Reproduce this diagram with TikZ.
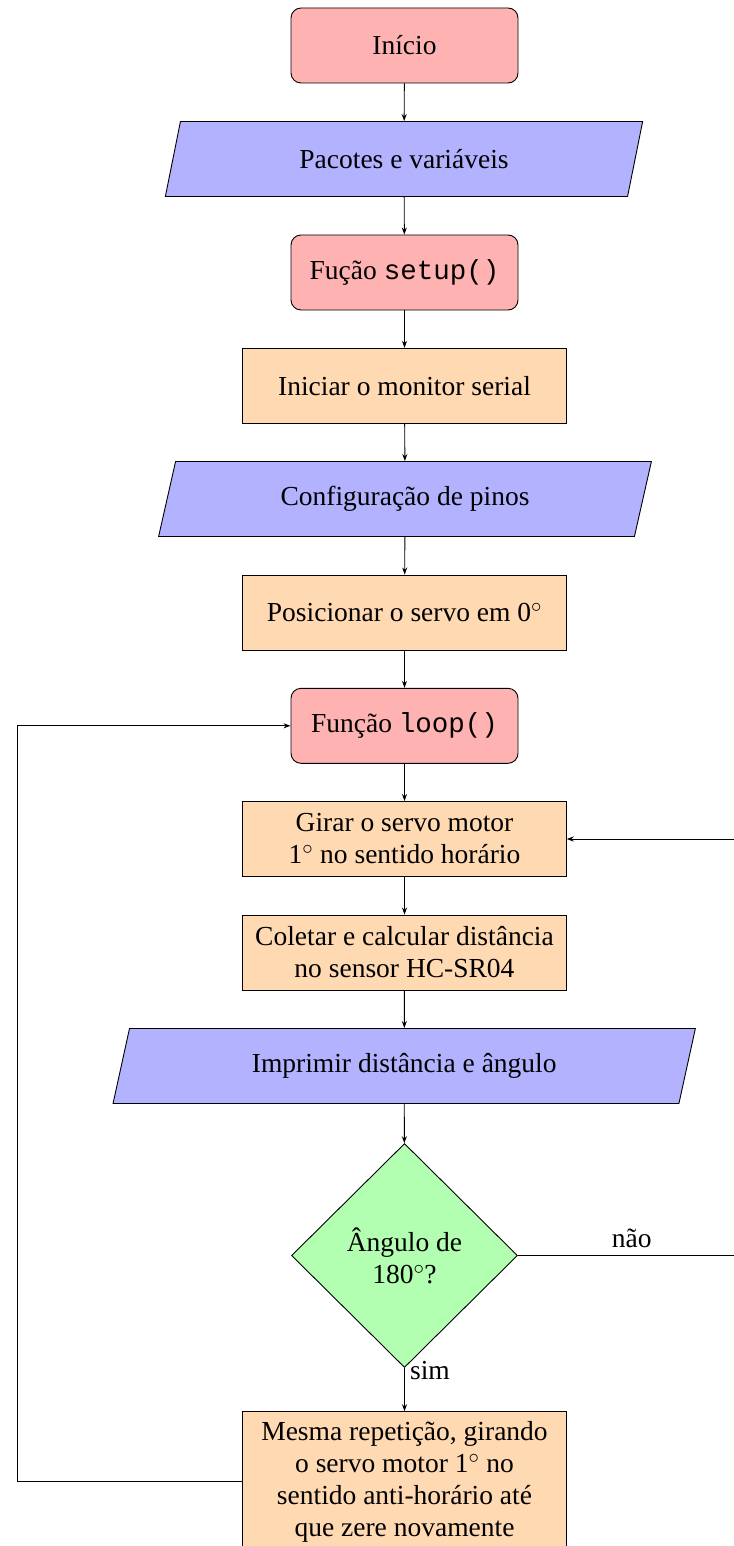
\documentclass[tikz,border=0pt]{standalone}
\usepackage{fontspec}
\setmainfont{Liberation Serif}
\setmonofont{Liberation Mono}
\usetikzlibrary{shapes.geometric,arrows.meta}
\tikzset{
  base/.style={draw=black, line width=0.9pt, font=\fontsize{27.5}{32}\selectfont,
    align=center, inner sep=0pt, minimum height=75pt},
  startbox/.style={base, rounded corners=10pt, fill=red!30, minimum width=227pt},
  procbox/.style={base, fill=orange!30, minimum width=323.5pt},
  iobox/.style={base, trapezium, trapezium left angle=70, trapezium right angle=110,
    trapezium stretches=true, fill=blue!30},
  decbox/.style={base, diamond, fill=green!30, minimum width=226pt, minimum height=224pt},
  conn/.style={line width=0.9pt, -{Stealth[length=7pt,width=5pt]}},
  lbl/.style={font=\fontsize{27.5}{32}\selectfont, inner sep=0pt},
}
\begin{document}
\begin{tikzpicture}[x=1pt,y=-1pt]
\useasboundingbox (0,0) rectangle (733,1546);
\node[startbox] (ini) at (404.5,45.5) {Início};
\node[iobox, minimum width=478pt] (pac) at (404,159) {Pacotes e variáveis};
\node[startbox] (setup) at (404.5,272.5) {Fução \texttt{setup()}};
\node[procbox] (mon) at (404.5,385.8) {Iniciar o monitor serial};
\node[iobox, minimum width=493pt] (pin) at (405,499) {Configuração de pinos};
\node[procbox] (zero) at (404.5,612.5) {Posicionar o servo em 0$^\circ$};
\node[startbox] (loop) at (404.5,725.8) {Função \texttt{loop()}};
\node[procbox] (gir) at (404.5,839) {Girar o servo motor\\1$^\circ$ no sentido horário};
\node[procbox] (col) at (404.5,952.5) {Coletar e calcular distância\\no sensor HC-SR04};
\node[iobox, minimum width=585pt] (imp) at (404.2,1066) {Imprimir distância e ângulo};
\node[decbox] (dec) at (404.5,1255.5) {Ângulo de\\180$^\circ$?};
\node[procbox, minimum height=140pt] (back) at (404.5,1481.7)
  {Mesma repetição, girando\\o servo motor 1$^\circ$ no\\sentido anti-horário até\\que zere novamente};
\coordinate (lft) at (17,0);
\coordinate (rgt) at (745,0);
\node[lbl] (nao) at (631.7,1238) {não};
\node[lbl] (sim) at (430,1371) {sim};
\draw[conn] (ini) -- (pac);
\draw[conn] (pac) -- (setup);
\draw[conn] (setup) -- (mon);
\draw[conn] (mon) -- (pin);
\draw[conn] (pin) -- (zero);
\draw[conn] (zero) -- (loop);
\draw[conn] (loop) -- (gir);
\draw[conn] (gir) -- (col);
\draw[conn] (col) -- (imp);
\draw[conn] (imp) -- (dec);
\draw[conn] (dec) -- (back);
\draw[conn] (back.west) -- (back.west -| lft) |- (loop.west);
\draw[conn] (dec.east) -- (dec.east -| rgt) |- (gir.east);
\end{tikzpicture}
\end{document}
